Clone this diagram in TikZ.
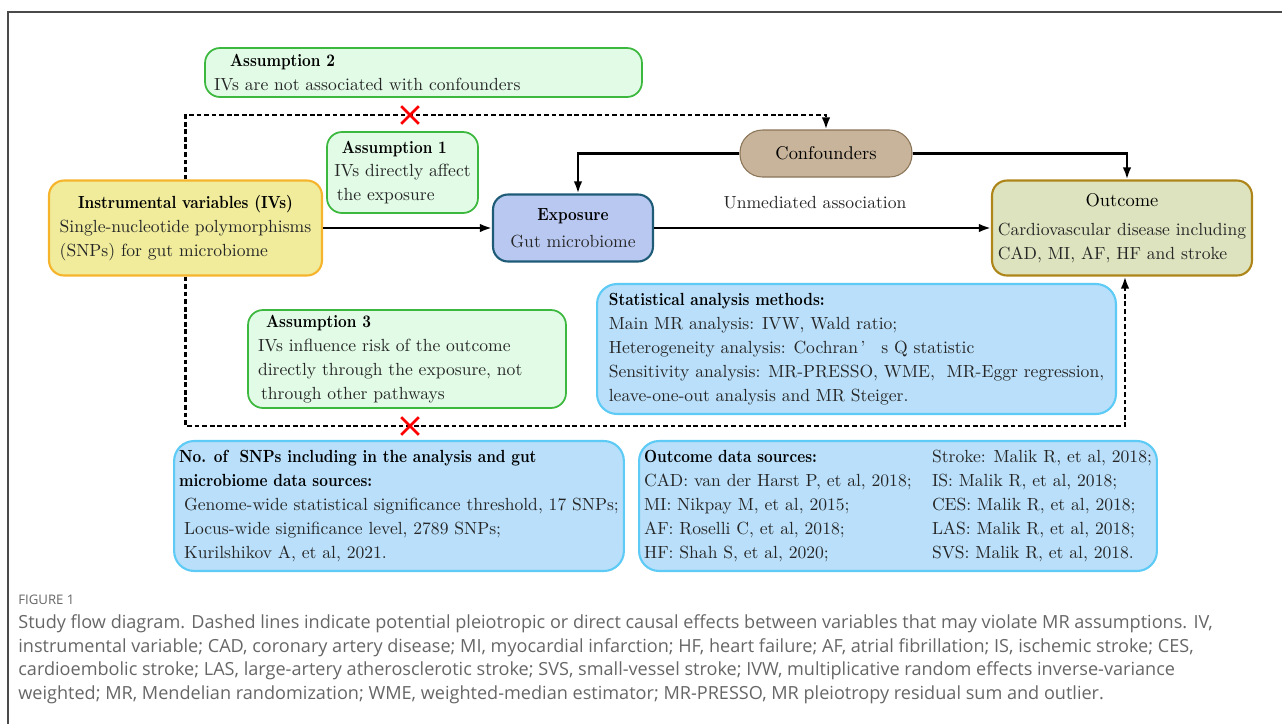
\documentclass[tikz,border=0pt]{standalone}
\usepackage{fontspec}
\usepackage{tikz}
\usetikzlibrary{positioning}
\usetikzlibrary{arrows.meta}
\usetikzlibrary{shapes.misc}
\newfontfamily\capfont{Open Sans}
\newfontface\titlebf{lmroman10-bold.otf}[FakeStretch=0.86]
\newcommand{\ttl}[1]{{\leavevmode\color{black}\titlebf #1}}

\definecolor{asmfill}{HTML}{E1FBE6}
\definecolor{asmline}{HTML}{3DB83F}
\definecolor{ivfill}{HTML}{F0EC9C}
\definecolor{ivline}{HTML}{F6B42C}
\definecolor{expfill}{HTML}{B9C8F1}
\definecolor{expline}{HTML}{1D5B76}
\definecolor{conffill}{HTML}{C8B49B}
\definecolor{confline}{HTML}{8A7558}
\definecolor{outfill}{HTML}{DDE3BE}
\definecolor{outborder}{HTML}{AD8518}
\definecolor{infofill}{HTML}{B9DFFA}
\definecolor{infoline}{HTML}{5DCBF5}
\definecolor{captext}{HTML}{666666}
\definecolor{framecol}{HTML}{4A4A4A}

\tikzset{
  box/.style={draw, rounded corners=0.3cm, line width=1pt, inner sep=0.1cm,
    text=black!85, font=\fontsize{10}{13.6}\selectfont},
  asmbox/.style={box, fill=asmfill, draw=asmline, align=left},
  infobox/.style={box, fill=infofill, draw=infoline, line width=1.2pt,
    rounded corners=0.4cm, align=left},
  ivbox/.style={box, fill=ivfill, draw=ivline, line width=1.2pt},
  expbox/.style={box, fill=expfill, draw=expline, line width=1.2pt, align=center},
  confbox/.style={box, fill=conffill, draw=confline, line width=0.6pt,
    rounded corners=0.45cm, text=black},
  outbox/.style={box, fill=outfill, draw=outborder, line width=1.2pt},
  arr/.style={line width=1.4pt, -{Latex[length=2.4mm,width=1.7mm]}},
  dasharr/.style={arr, line width=1.3pt, dash pattern=on 2.7pt off 1.6pt},
  redx/.style={cross out, draw=red, line width=1.5pt, minimum size=0.3cm, inner sep=0pt},
  captxt/.style={inner sep=0pt, text=captext, align=left},
}

\begin{document}
\begin{tikzpicture}[x=0.02cm, y=-0.02cm]
  \useasboundingbox (0,0) rectangle (1282,724);
  \draw[framecol, line width=0.8pt] (8,724) -- (8,12) -- (1282,12);

  \node[asmbox, text width=8.38cm, inner xsep=0.18cm, minimum height=0.98cm] (asm2) at (423.5,72.5)
    {\hspace*{0.32cm}\ttl{Assumption 2}\\IVs are not associated with confounders};
  \node[asmbox, minimum width=3.02cm, minimum height=1.62cm] (asm1) at (402.5,172.5)
    {\hspace*{0.15cm}\ttl{Assumption 1}\\IVs directly affect\\\hspace*{0.05cm}the exposure};
  \node[ivbox, minimum width=5.46cm, minimum height=1.9cm] (iv) at (185.5,228)
    {\begin{tabular}{@{}l@{}}
      \multicolumn{1}{@{}c@{}}{\ttl{Instrumental variables (IVs)}}\\
      Single-nucleotide polymorphisms\\
      (SNPs) for gut microbiome
    \end{tabular}};
  \node[expbox, minimum width=3.2cm, minimum height=1.34cm] (exp) at (573,228)
    {\ttl{Exposure}\\[2pt]Gut microbiome};
  \node[confbox, minimum width=3.44cm, minimum height=0.94cm] (conf) at (826,153.5)
    {\fontsize{10.5}{12}\selectfont Confounders};
  \node[outbox, minimum width=5.2cm, minimum height=1.9cm] (outc) at (1122,228)
    {\begin{tabular}{@{}l@{}}
      \multicolumn{1}{@{}c@{}}{\color{black}\fontsize{10.5}{12}\selectfont Outcome}\\[3pt]
      Cardiovascular disease including\\
      CAD, MI, AF, HF and stroke
    \end{tabular}};
  \node[font=\fontsize{10}{12}\selectfont, text=black!85] (unmed) at (815,203) {Unmediated association};

  \node[infobox, minimum width=10.38cm, minimum height=2.6cm] (stats) at (856.5,349)
    {\ttl{Statistical analysis methods:}\\
     Main MR analysis: IVW, Wald ratio;\\
     Heterogeneity analysis: Cochran\hspace{0.15em}’\hspace{0.9em}s Q statistic\\
     Sensitivity analysis: MR-PRESSO, WME,\ \ MR-Eggr regression,\\
     leave-one-out analysis and MR Steiger.};
  \node[asmbox, text width=5.96cm, inner xsep=0.2cm, minimum height=1.96cm] (asm3) at (407,359)
    {\hspace*{0.16cm}\ttl{Assumption 3}\\
     IVs influence risk of the outcome\\
     directly through the exposure, not\\
     \hspace*{0.06cm}through other pathways};
  \node[infobox, minimum width=8.68cm, minimum height=2.6cm] (snps) at (399,506)
    {\ttl{No. of\ \ SNPs including in the analysis and gut}\\
     \ttl{microbiome data sources:}\\
     \hspace*{0.1cm}Genome-wide statistical significance threshold, 17 SNPs;\\
     \hspace*{0.1cm}Locus-wide significance level, 2789 SNPs;\\
     \hspace*{0.1cm}Kurilshikov A, et al, 2021.};
  \node[infobox, minimum width=10cm, minimum height=2.6cm] (data) at (898,506)
    {\begin{tabular}{@{}p{5.76cm}@{}l@{}}
      \ttl{Outcome data sources:} & Stroke: Malik R, et al, 2018;\\
      CAD: van der Harst P, et al, 2018; & IS: Malik R, et al, 2018;\\
      MI: Nikpay M, et al, 2015; & CES: Malik R, et al, 2018;\\
      AF: Roselli C, et al, 2018; & LAS: Malik R, et al, 2018;\\
      HF: Shah S, et al, 2020; & SVS: Malik R, et al, 2018.
    \end{tabular}};

  \coordinate (topx) at (410,115);
  \coordinate (botx) at (410,426);

  % Connect the nodes
  \draw[arr] (iv) -- (exp);
  \draw[arr] (exp) -- (outc);
  \draw[arr] (conf.west) -| ([xshift=0.1cm]exp.north);
  \draw[arr] (conf.east) -| ([xshift=0.1cm]outc.north);
  \draw[dasharr] (iv.north) |- (topx) -| (conf.north);
  \draw[dasharr] (iv.south) |- (botx) -| ([xshift=0.06cm]outc.south);

  \node[redx] (crossa) at (topx) {};
  \node[redx] (crossb) at (botx) {};

  % Caption
  \node[captxt, anchor=base west, font=\capfont\fontsize{7.5}{9}\selectfont] (figlabel) at (18,604) {FIGURE 1};
  \node[captxt, anchor=north west, font=\capfont\fontsize{10.3}{13.6}\selectfont] (caption) at (18,614)
    {Study flow diagram. Dashed lines indicate potential pleiotropic or direct causal effects between variables that may violate MR assumptions. IV,\\
     instrumental variable; CAD, coronary artery disease; MI, myocardial infarction; HF, heart failure; AF, atrial fibrillation; IS, ischemic stroke; CES,\\
     cardioembolic stroke; LAS, large-artery atherosclerotic stroke; SVS, small-vessel stroke; IVW, multiplicative random effects inverse-variance\\
     weighted; MR, Mendelian randomization; WME, weighted-median estimator; MR-PRESSO, MR pleiotropy residual sum and outlier.};
\end{tikzpicture}
\end{document}
